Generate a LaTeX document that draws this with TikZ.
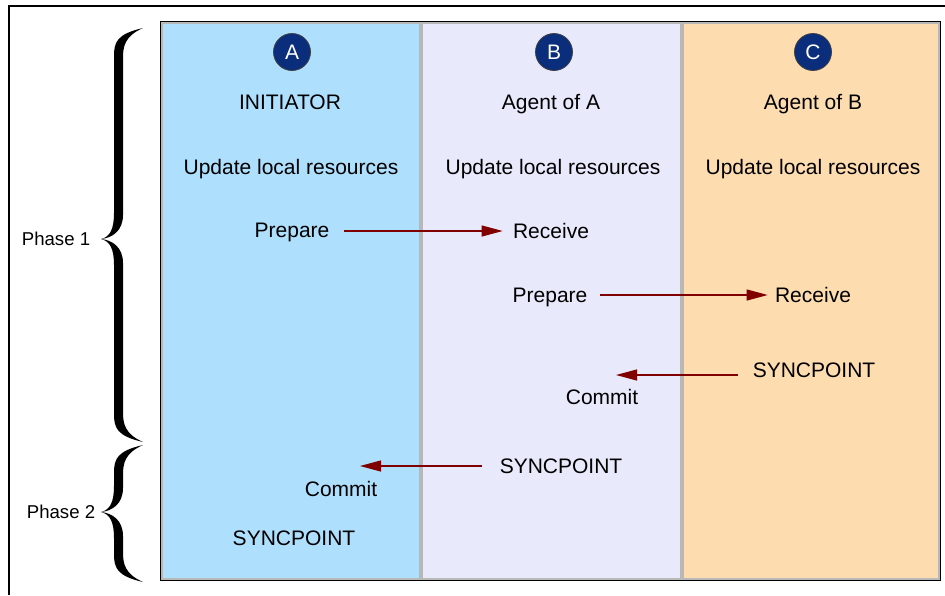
\documentclass[tikz,border=0pt]{standalone}
\usepackage{fontspec}
\setmainfont{Liberation Sans}
\usepackage{tikz}
\usetikzlibrary{arrows.meta,positioning,calc}
\definecolor{LaneA}{HTML}{AEDFFC}
\definecolor{LaneB}{HTML}{E9E9FC}
\definecolor{LaneC}{HTML}{FDDCB0}
\definecolor{LaneRim}{HTML}{B8B8B8}
\definecolor{Navy}{HTML}{0A2D7C}
\definecolor{Wine}{HTML}{800000}
% serif-like curly brace, filled: #1 top, #2 tip, #3 bottom
\newcommand{\phasebrace}[3]{%
  \fill (143,#1) .. controls (117,#1+6) and (114,#1+14) .. (114,#1+28)
    -- (114,#2-26) .. controls (114,#2-10) and (110,#2-2) .. (101,#2)
    .. controls (110,#2+2) and (114,#2+10) .. (114,#2+26)
    -- (114,#3-28) .. controls (114,#3-14) and (117,#3-6) .. (143,#3)
    .. controls (125,#3-8) and (123,#3-18) .. (123,#3-30)
    -- (123,#2+24) .. controls (123,#2+8) and (112,#2+1) .. (101,#2)
    .. controls (112,#2-1) and (123,#2-8) .. (123,#2-24)
    -- (123,#1+30) .. controls (123,#1+18) and (125,#1+8) .. (143,#1) -- cycle;}

\begin{document}
\begin{tikzpicture}[x=0.5pt,y=-0.5pt,
  lane/.style={draw=black,line width=0.9pt,minimum height=279pt,inner sep=0pt},
  rim/.style={draw=LaneRim,line width=0.7pt},
  badge/.style={circle,fill=Navy,draw=black!75,line width=0.4pt,minimum size=18.5pt,inner sep=0pt,text=white,font=\fontsize{10.5}{12}\selectfont},
  lbl/.style={font=\fontsize{10.5}{12}\selectfont,inner sep=1pt,text height=7.5pt,text depth=0pt},
  phase/.style={font=\fontsize{9.3}{11}\selectfont,inner sep=1pt,text height=6.7pt,text depth=0pt},
  msg/.style={-{Triangle[length=10.5pt,width=5.5pt]},draw=Wine,fill=Wine,line width=0.55pt}
]
  \useasboundingbox (0,0) rectangle (945,595);
  \draw[line width=0.6pt] (945,6) -- (9,6) -- (9,595);

  \node[lane,fill=LaneA,minimum width=130pt] (colA) at (291,301) {};
  \node[lane,fill=LaneB,minimum width=130.5pt] (colB) at (551.5,301) {};
  \node[lane,fill=LaneC,minimum width=129pt] (colC) at (811,301) {};
  \draw[rim] ([shift={(2,2)}]colA.north west) rectangle ([shift={(-2,-2)}]colA.south east);
  \draw[rim] ([shift={(2,2)}]colB.north west) rectangle ([shift={(-2,-2)}]colB.south east);
  \draw[rim] ([shift={(2,2)}]colC.north west) rectangle ([shift={(-2,-2)}]colC.south east);

  \node[badge] (badgeA) at (292,52) {A};
  \node[badge] (badgeB) at (554,52) {B};
  \node[badge] (badgeC) at (813,52) {C};

  \node[lbl] (roleA) at (290,102) {INITIATOR};
  \node[lbl] (roleB) at (551,102) {Agent of A};
  \node[lbl] (roleC) at (813,102) {Agent of B};
  \node[lbl] (updA) at (291,167) {Update local resources};
  \node[lbl] (updB) at (553,167) {Update local resources};
  \node[lbl] (updC) at (813,167) {Update local resources};

  \node[lbl] (prepA) at (292,230) {Prepare};
  \node[lbl] (recvB) at (551,231) {Receive};
  \node[lbl] (prepB) at (550,295) {Prepare};
  \node[lbl] (recvC) at (813,295) {Receive};
  \node[lbl] (syncC) at (814,370) {SYNCPOINT};
  \node[lbl] (commitB) at (602,397) {Commit};
  \node[lbl] (syncB) at (561,466) {SYNCPOINT};
  \node[lbl] (commitA) at (341,489) {Commit};
  \node[lbl] (syncA) at (294,538) {SYNCPOINT};

  \coordinate (tipB) at (616,375);
  \coordinate (tipA) at (360,466);
  \draw[msg,shorten <=6pt,shorten >=4pt] (prepA.east |- recvB.west) -- (recvB.west);
  \draw[msg,shorten <=5.3pt,shorten >=2.5pt] (prepB) -- (recvC);
  \draw[msg,shorten <=6.4pt] (syncC.west |- tipB) -- (tipB);
  \draw[msg,shorten <=7.9pt] (syncB.west |- tipA) -- (tipA);

  \phasebrace{28}{239}{442}
  \phasebrace{445}{512}{582}
  \node[phase] (phase1) at (56,239) {Phase 1};
  \node[phase] (phase2) at (61,512) {Phase 2};
\end{tikzpicture}
\end{document}
